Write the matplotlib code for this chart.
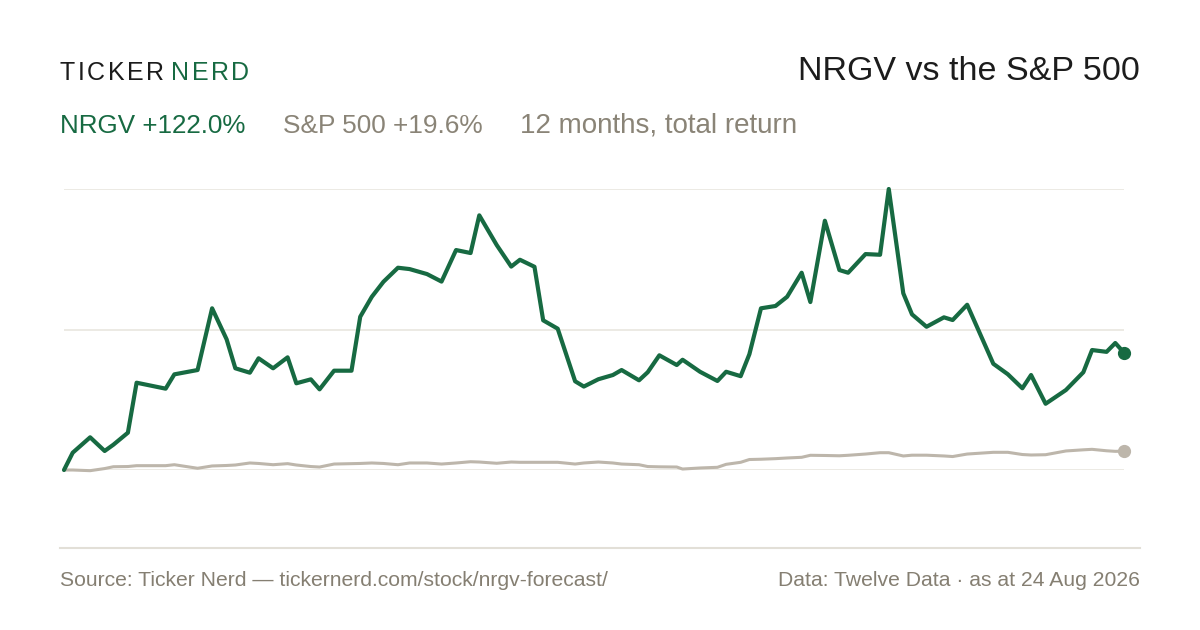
import matplotlib

matplotlib.use("Agg")
import matplotlib.pyplot as plt
from matplotlib.lines import Line2D

# canvas in pixels
W, H, DPI = 1200, 630, 100

GREEN = "#176a42"
SAND = "#bdb6ab"
INK = "#1c1c1c"
MUTED = "#8a8477"
GRID = "#ebe8e2"

# days since the start of the 12-month window
days = [0, 3, 9, 14, 17, 22, 25, 35, 38, 46,
        51, 56, 59, 64, 67, 72, 77, 80, 85, 88,
        93, 99, 102, 106, 110, 115, 119, 125, 130, 135,
        140, 143, 149, 154, 157, 162, 165, 170, 176, 179,
        184, 189, 192, 198, 201, 205, 211, 213, 219, 225,
        228, 233, 236, 240, 245, 249, 254, 257, 262, 267,
        270, 276, 281, 284, 289, 292, 297, 303, 306, 311,
        320, 325, 330, 333, 338, 345, 351, 354, 359, 362, 365]

# cumulative total return, %
nrgv = [0, 18.0, 34.0, 19.8, 26.3, 38.8, 90.8, 84.6, 99.5, 104.0,
        168.2, 135.9, 105.8, 101.2, 116.2, 105.8, 117.2, 90.2, 94.3, 83.9,
        103.3, 103.3, 159.4, 180.2, 195.8, 210.4, 209.0, 203.8, 196.0, 228.8,
        225.7, 264.9, 234.0, 211.6, 218.7, 211.4, 155.7, 147.0, 92.3, 86.8,
        94.4, 98.8, 104.0, 93.3, 101.7, 119.3, 109.2, 114.7, 102.2, 92.6,
        102.2, 97.6, 120.4, 168.2, 170.6, 180.2, 205.2, 174.7, 259.3, 208.0,
        205.2, 224.6, 223.9, 292.3, 183.8, 161.9, 149.0, 158.8, 156.0, 171.9,
        110.5, 99.6, 85.0, 98.8, 68.9, 83.2, 101.7, 124.8, 122.9, 132.1, 122.0]

spx = [0, 0, -0.7, 1.5, 3.4, 3.6, 4.5, 4.5, 5.5, 1.8,
       4.2, 4.7, 5.2, 7.3, 6.8, 5.5, 6.6, 5.2, 3.6, 3.1,
       6.2, 6.6, 6.8, 7.3, 6.8, 5.5, 7.3, 7.3, 6.2, 7.3,
       8.6, 8.3, 7.0, 8.3, 8.0, 8.0, 8.0, 8.0, 6.2, 7.3,
       8.3, 7.3, 6.2, 5.5, 3.6, 3.3, 3.1, 1.0, 2.1, 2.8,
       5.9, 8.0, 10.9, 11.2, 11.8, 12.5, 13.2, 15.3, 15.1, 14.8,
       15.3, 16.6, 18.0, 18.0, 14.6, 15.4, 15.4, 14.6, 14.0, 16.6,
       18.4, 18.4, 16.1, 15.6, 15.9, 19.8, 21.0, 21.5, 20.0, 19.4, 19.6]

ticker = "NRGV"
benchmark = "S&P 500"


def fx(x):
    return x / W


def fy(y):
    return 1 - y / H


plt.rcParams["font.family"] = ["Liberation Sans", "DejaVu Sans"]
fig = plt.figure(figsize=(W / DPI, H / DPI), dpi=DPI)
fig.patch.set_facecolor("white")

# plot area
ax = fig.add_axes([fx(64), fy(470), (1124 - 64) / W, (470 - 189) / H])
ax.set_xlim(days[0], days[-1])
peak = max(nrgv)
ax.set_ylim(0, peak)
ax.axis("off")

for level in (0, peak / 2, peak):
    ax.axhline(level, color=GRID, lw=1.3, zorder=0)

ax.plot(days, spx, color=SAND, lw=2.2, solid_joinstyle="round",
        solid_capstyle="round", clip_on=False, zorder=2)
ax.plot(days, nrgv, color=GREEN, lw=3.0, solid_joinstyle="round",
        solid_capstyle="round", clip_on=False, zorder=3)
ax.plot(days[-1], spx[-1], "o", ms=8.5, color=SAND, clip_on=False, zorder=2)
ax.plot(days[-1], nrgv[-1], "o", ms=8.5, color=GREEN, clip_on=False, zorder=3)

# footer rule
fig.add_artist(Line2D([fx(60), fx(1140)], [fy(548), fy(548)],
                      color="#e2dfd7", lw=1.5))

# wordmark with a little tracking
renderer = fig.canvas.get_renderer()
x = 60
for word, color in (("TICKER", INK), ("NERD", GREEN)):
    for ch in word:
        t = fig.text(fx(x), fy(80), ch, fontsize=18, color=color, va="baseline")
        x += t.get_window_extent(renderer).width + 2.5
    x += 5

fig.text(fx(1140), fy(80), f"{ticker} vs the {benchmark}", ha="right",
         va="baseline", fontsize=24.5, color=INK)

fig.text(fx(60), fy(133), f"{ticker} {nrgv[-1]:+.1f}%", fontsize=18.7,
         color=GREEN, va="baseline")
fig.text(fx(283), fy(133), f"{benchmark} {spx[-1]:+.1f}%", fontsize=18.9,
         color=MUTED, va="baseline")
fig.text(fx(520), fy(133), "12 months, total return", fontsize=20,
         color=MUTED, va="baseline")

fig.text(fx(60), fy(586), "Source: Ticker Nerd \u2014 tickernerd.com/stock/nrgv-forecast/",
         fontsize=15.2, color="#857f72", va="baseline")
fig.text(fx(1140), fy(586), "Data: Twelve Data \u00b7 as at 24 Aug 2026",
         fontsize=15.2, color="#857f72", va="baseline", ha="right")

fig.savefig("out.png", dpi=DPI, facecolor="white")
